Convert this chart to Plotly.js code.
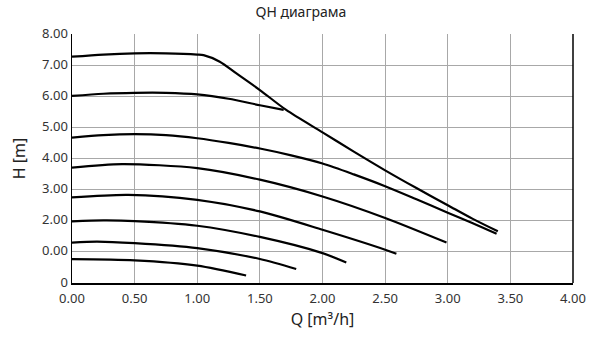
<!DOCTYPE html>
<html>
<head>
<meta charset="utf-8">
<script src="https://cdn.plot.ly/plotly-3.0.1.min.js"></script>
<style>html,body{margin:0;padding:0;background:#fff}#chart{width:590px;height:337px}</style>
</head>
<body>
<div id="chart"></div>
<script>
// Curves (Q in m3/h, H in m)
const q1 = [0, 0.25, 0.5, 0.75, 1.0, 1.05, 1.18, 1.31, 1.5, 1.71, 2.0, 2.25, 2.5, 2.75, 3.0, 3.2, 3.40];
const h1 = [7.27, 7.34, 7.38, 7.38, 7.34, 7.32, 7.11, 6.74, 6.20, 5.56, 4.84, 4.22, 3.62, 3.05, 2.50, 2.06, 1.66];
const q2 = [0, 0.25, 0.5, 0.75, 1.0, 1.25, 1.5, 1.69];
const h2 = [6.01, 6.08, 6.11, 6.11, 6.06, 5.92, 5.71, 5.56];
const q3 = [0, 0.25, 0.5, 0.75, 1.0, 1.25, 1.5, 1.75, 2.0, 2.25, 2.5, 2.75, 3.0, 3.2, 3.39];
const h3 = [4.67, 4.75, 4.78, 4.75, 4.65, 4.50, 4.32, 4.10, 3.84, 3.49, 3.11, 2.69, 2.26, 1.92, 1.58];
const q4 = [0, 0.4, 1.0, 1.5, 2.0, 2.5, 2.99];
const h4 = [3.71, 3.82, 3.69, 3.32, 2.78, 2.09, 1.30];
const q5 = [0, 0.45, 1.0, 1.5, 2.0, 2.5, 2.59];
const h5 = [2.75, 2.83, 2.67, 2.30, 1.71, 1.07, 0.94];
const q6 = [0, 0.25, 0.5, 1.0, 1.5, 2.0, 2.19];
const h6 = [1.98, 2.01, 1.99, 1.84, 1.48, 0.96, 0.66];
const q7 = [0, 0.2, 0.5, 1.0, 1.5, 1.79];
const h7 = [1.30, 1.33, 1.28, 1.12, 0.77, 0.45];
const q8 = [0, 0.5, 1.0, 1.39];
const h8 = [0.77, 0.73, 0.56, 0.24];

const xTickVals = [0, 0.5, 1, 1.5, 2, 2.5, 3, 3.5, 4];
const xTickText = ["0.00", "0.50", "1.00", "1.50", "2.00", "2.50", "3.00", "3.50", "4.00"];
const yTickVals = [0, 1, 2, 3, 4, 5, 6, 7, 8];
const yTickText = ["0", "0.00", "2.00", "3.00", "4.00", "5.00", "6.00", "7.00", "8.00"];

const series = [[q1,h1],[q2,h2],[q3,h3],[q4,h4],[q5,h5],[q6,h6],[q7,h7],[q8,h8]];
const traces = series.map(([x, y]) => ({
  x: x, y: y, type: 'scatter', mode: 'lines',
  line: {color: '#000', width: 2.2, shape: 'spline', smoothing: 0.8},
  hoverinfo: 'skip', showlegend: false
}));

const font = "'Noto Sans', 'Open Sans', sans-serif";
const layout = {
  width: 590, height: 337,
  margin: {l: 72, r: 17, t: 34, b: 54},
  paper_bgcolor: '#fff', plot_bgcolor: '#fff',
  font: {family: font, color: '#333', size: 13},
  title: {text: 'QH диаграма', x: 0.51, xanchor: 'center', y: 0.963, yanchor: 'middle', font: {family: font, size: 14, color: '#222'}},
  xaxis: {
    range: [0, 4], tickvals: xTickVals, ticktext: xTickText,
    showgrid: true, gridcolor: '#a8a8a8', gridwidth: 1,
    showline: true, linecolor: '#000', linewidth: 1.5, zeroline: false,
    ticks: '', tickfont: {size: 13, color: '#333'}, ticklabelstandoff: 3,
    title: {text: 'Q [m³/h]', font: {size: 16, color: '#222'}, standoff: 7}
  },
  yaxis: {
    range: [0, 8], tickvals: yTickVals, ticktext: yTickText,
    showgrid: true, gridcolor: '#a8a8a8', gridwidth: 1,
    showline: true, linecolor: '#000', linewidth: 1.5, zeroline: false,
    ticks: '', tickfont: {size: 13, color: '#333'}, ticklabelshift: -1,
    title: {text: 'H [m]', font: {size: 16, color: '#222'}, standoff: 12}
  },
  shapes: [{type: 'line', xref: 'paper', yref: 'paper', x0: 1, x1: 1, y0: 0, y1: 1, line: {color: '#000', width: 1.5}}]
};

Plotly.newPlot('chart', traces, layout, {displayModeBar: false, staticPlot: true});
</script>
</body>
</html>
